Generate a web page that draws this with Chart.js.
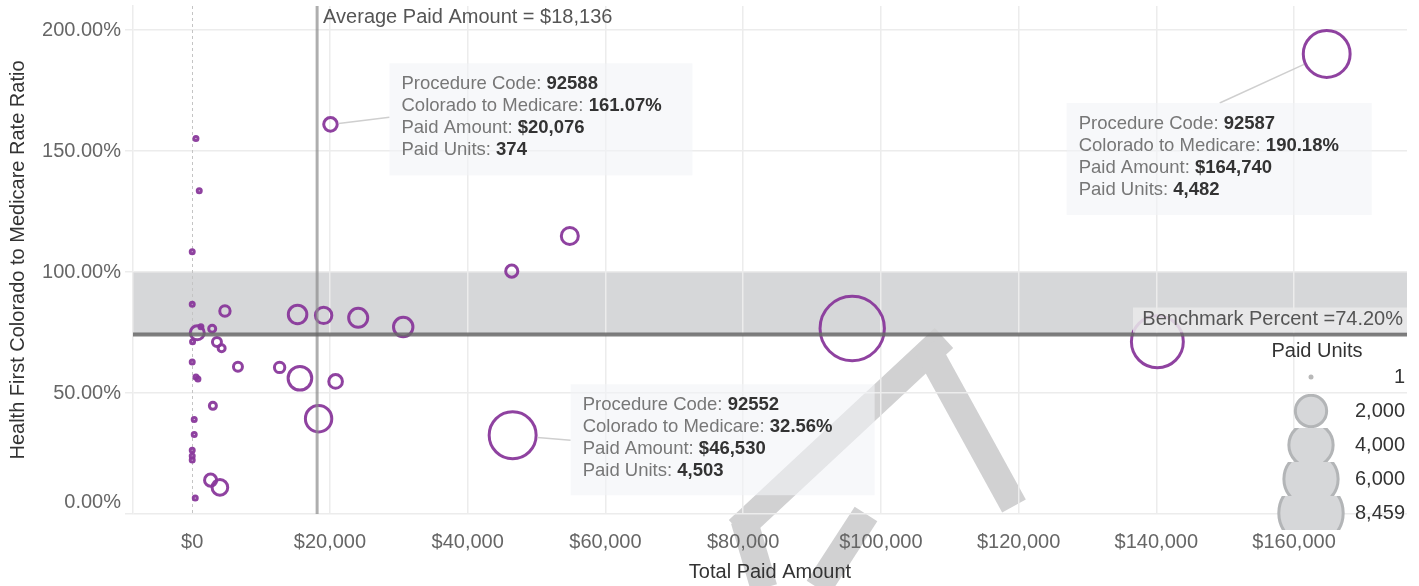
<!DOCTYPE html>
<html>
<head>
<meta charset="utf-8">
<script src="https://cdn.jsdelivr.net/npm/chart.js@4.4.0/dist/chart.umd.min.js"></script>
<style>
  html, body { margin: 0; padding: 0; background: #fff; }
  #wrap { width: 1419px; height: 586px; }
</style>
</head>
<body>
<div id="wrap"><canvas id="chart" width="1419" height="586"></canvas></div>
<script>
// Values (first three are the annotated codes)
const procedureCodes = ['92588', '92587', '92552'];
const paidAmount = [20076, 164740, 46530,
  540, 1020, 0, 0, 4750, 1260, 730, 2900, 50, 3590, 4270, 0, 6640, 540, 830, 3000,
  290, 290, 0, 0, 0, 2670, 4020, 440, 15300, 19080, 24100, 30640, 12690, 15640,
  20820, 18350, 54830, 46400, 95840, 140150];
const rateRatio = [161.07, 190.18, 32.56,
  155.2, 133.6, 108.4, 86.7, 83.9, 77.4, 74.9, 76.6, 71.2, 71.1, 68.5, 62.8, 60.9, 56.6, 55.8, 44.7,
  39.1, 32.9, 26.4, 24.0, 22.3, 14.0, 11.0, 6.6, 82.5, 82.1, 81.1, 77.3, 60.6, 56.1,
  54.8, 39.4, 114.9, 100.4, 76.7, 71.2];
const paidUnits = [374, 4482, 4503,
  8, 10, 3, 4, 220, 15, 400, 100, 5, 165, 100, 3, 165, 8, 10, 100,
  6, 6, 3, 3, 3, 300, 500, 7, 700, 550, 740, 770, 220, 1140,
  380, 1420, 590, 300, 8459, 5500];

const xTicks = [0, 20000, 40000, 60000, 80000, 100000, 120000, 140000, 160000];
const yTicks = [0, 50, 100, 150, 200];
const legendUnits = [1, 2000, 4000, 6000, 8459];
const averagePaid = 18136;
const benchmarkPct = 74.2;

const FONT = '"Liberation Sans", Arial, Helvetica, sans-serif';
const PURPLE = 'rgba(137, 56, 155, 0.95)';

const radiusFor = u => Math.max(2, 0.35 * Math.sqrt(u));
const money = v => (v < 0 ? '-$' : '$') + Math.abs(v).toString().replace(/\B(?=(\d{3})+(?!\d))/g, ',');
const num = v => v.toString().replace(/\B(?=(\d{3})+(?!\d))/g, ',');

// callout boxes, placed relative to their point
const callouts = [
  { idx: 0, dx: 59, dy: -61, w: 303, h: 112, ax: 0, ay: 54 },
  { idx: 1, dx: -260, dy: 49, w: 305, h: 112, ax: 153, ay: 0 },
  { idx: 2, dx: 58, dy: -51, w: 304, h: 111, ax: 0, ay: 56 }
];

// grey watermark strokes over the lower middle of the picture
const watermark = [
  [[738, 530], [944, 338]],
  [[926, 346], [1014, 506]],
  [[866, 514], [818, 588]],
  [[744, 520], [764, 588]]
];

const overlays = {
  id: 'overlays',
  beforeDraw(chart) {
    const { ctx, chartArea: a, scales: { y } } = chart;
    const y1 = y.getPixelForValue(100), y2 = y.getPixelForValue(benchmarkPct);
    ctx.save();
    ctx.fillStyle = '#d6d7d9';
    ctx.fillRect(a.left, y1, a.right - a.left, y2 - y1);

    // watermark sits under the text layers
    ctx.strokeStyle = 'rgb(209, 209, 210)';
    ctx.lineWidth = 27;
    ctx.lineCap = 'butt';
    watermark.forEach(([p1, p2]) => {
      ctx.beginPath();
      ctx.moveTo(p1[0], p1[1]);
      ctx.lineTo(p2[0], p2[1]);
      ctx.stroke();
    });
    ctx.restore();
  },
  beforeDatasetsDraw(chart) {
    const { ctx, chartArea: a, scales: { x } } = chart;
    const x0 = Math.round(x.getPixelForValue(0)) + 0.5;
    ctx.save();
    ctx.strokeStyle = '#c4c4c4';
    ctx.lineWidth = 1;
    ctx.setLineDash([3, 3]);
    ctx.beginPath();
    ctx.moveTo(x0, a.top);
    ctx.lineTo(x0, a.bottom);
    ctx.stroke();
    ctx.restore();
  },
  afterDatasetsDraw(chart) {
    const { ctx, chartArea: a, scales: { x, y } } = chart;
    ctx.save();
    // average paid amount
    const xa = x.getPixelForValue(averagePaid);
    ctx.strokeStyle = 'rgba(140, 140, 140, 0.7)';
    ctx.lineWidth = 3;
    ctx.beginPath();
    ctx.moveTo(xa, a.top);
    ctx.lineTo(xa, a.bottom);
    ctx.stroke();
    ctx.font = '20px ' + FONT;
    ctx.fillStyle = '#555';
    ctx.textBaseline = 'middle';
    ctx.textAlign = 'left';
    ctx.fillText('Average Paid Amount = ' + money(averagePaid), xa + 6, a.top + 11);

    // benchmark
    const yb = y.getPixelForValue(benchmarkPct);
    ctx.strokeStyle = 'rgba(105, 105, 105, 0.85)';
    ctx.lineWidth = 4;
    ctx.beginPath();
    ctx.moveTo(a.left, yb);
    ctx.lineTo(a.right, yb);
    ctx.stroke();
    ctx.fillStyle = 'rgba(234, 234, 234, 0.85)';
    ctx.fillRect(a.right - 274, yb - 27, 274, 25);
    ctx.fillStyle = '#555';
    ctx.textAlign = 'right';
    ctx.fillText('Benchmark Percent =' + benchmarkPct.toFixed(2) + '%', a.right - 4, yb - 15);
    ctx.restore();
  },
  afterDraw(chart) {
    const { ctx } = chart;
    const pts = chart.getDatasetMeta(0).data;
    ctx.save();

    // callouts
    callouts.forEach((c, k) => {
      const p = pts[c.idx];
      const bx = p.x + c.dx, by = p.y + c.dy;
      const axp = bx + c.ax, ayp = by + c.ay;
      const r = radiusFor(paidUnits[c.idx]) + 1.5;
      const ang = Math.atan2(ayp - p.y, axp - p.x);
      ctx.strokeStyle = '#cfcfcf';
      ctx.lineWidth = 1.5;
      ctx.beginPath();
      ctx.moveTo(p.x + r * Math.cos(ang), p.y + r * Math.sin(ang));
      ctx.lineTo(axp, ayp);
      ctx.stroke();
      ctx.fillStyle = 'rgba(241, 243, 247, 0.6)';
      ctx.fillRect(bx, by, c.w, c.h);
      const rows = [
        ['Procedure Code: ', procedureCodes[k]],
        ['Colorado to Medicare: ', rateRatio[c.idx].toFixed(2) + '%'],
        ['Paid Amount: ', money(paidAmount[c.idx])],
        ['Paid Units: ', num(paidUnits[c.idx])]
      ];
      ctx.textBaseline = 'middle';
      ctx.textAlign = 'left';
      rows.forEach((row, i) => {
        const ty = by + 21 + i * 22;
        ctx.font = '18.5px ' + FONT;
        ctx.fillStyle = '#777';
        ctx.fillText(row[0], bx + 12, ty);
        const w = ctx.measureText(row[0]).width;
        ctx.font = 'bold 18.5px ' + FONT;
        ctx.fillStyle = '#333';
        ctx.fillText(row[1], bx + 12 + w, ty);
      });
    });

    // size legend
    const lx = 1311, rowH = 34, firstY = 377;
    ctx.font = '20px ' + FONT;
    ctx.fillStyle = '#333';
    ctx.textAlign = 'center';
    ctx.textBaseline = 'middle';
    ctx.fillText('Paid Units', 1317, 351);
    legendUnits.forEach((u, i) => {
      const cy = firstY + i * rowH;
      ctx.save();
      ctx.beginPath();
      ctx.rect(lx - 60, cy - rowH / 2, 120, rowH);
      ctx.clip();
      const r = radiusFor(u);
      ctx.beginPath();
      if (u <= 1) {
        ctx.arc(lx, cy, 2.5, 0, Math.PI * 2);
        ctx.fillStyle = '#b8b8b8';
        ctx.fill();
      } else {
        ctx.arc(lx, cy, r, 0, Math.PI * 2);
        ctx.fillStyle = '#d6d7d9';
        ctx.fill();
        ctx.strokeStyle = '#b3b5b7';
        ctx.lineWidth = 3;
        ctx.stroke();
      }
      ctx.restore();
      ctx.font = '20px ' + FONT;
      ctx.fillStyle = '#333';
      ctx.textAlign = 'right';
      ctx.fillText(num(u), 1405, cy);
    });
    ctx.restore();
  }
};

new Chart(document.getElementById('chart'), {
  type: 'scatter',
  data: {
    datasets: [{
      data: paidAmount.map((v, i) => ({ x: v, y: rateRatio[i] })),
      pointRadius: paidUnits.map(radiusFor),
      pointBorderWidth: 3,
      borderColor: PURPLE,
      backgroundColor: 'rgba(0,0,0,0)',
      pointBackgroundColor: 'rgba(0,0,0,0)',
      pointBorderColor: PURPLE
    }]
  },
  options: {
    responsive: false,
    animation: false,
    events: [],
    layout: { autoPadding: false, padding: { top: 6, right: 12, left: 0, bottom: 0 } },
    plugins: { legend: { display: false }, tooltip: { enabled: false } },
    scales: {
      x: {
        type: 'linear',
        min: -8600,
        max: 176400,
        afterBuildTicks: s => { s.ticks = xTicks.map(v => ({ value: v })); },
        afterFit: s => { s.height = 72; s.paddingLeft = 0; s.paddingRight = 0; },
        grid: {
          color: c => (c.tick && c.tick.value === 0 ? 'rgba(0,0,0,0)' : '#ececec'),
          lineWidth: 1.5,
          drawTicks: false
        },
        border: { display: false },
        ticks: { color: '#666', padding: 16, maxRotation: 0, font: { size: 20, family: FONT }, callback: v => money(v) },
        title: { display: true, text: 'Total Paid Amount', color: '#333', font: { size: 20, family: FONT }, padding: { top: 4, bottom: 2 } }
      },
      y: {
        min: 0,
        max: 210,
        afterBuildTicks: s => { s.ticks = yTicks.map(v => ({ value: v })); },
        afterFit: s => { s.width = 133; s.paddingTop = 0; s.paddingBottom = 0; },
        grid: { color: '#ececec', lineWidth: 1.5, tickLength: 8, tickColor: '#ececec' },
        border: { display: true, color: '#ececec', width: 1.5 },
        ticks: { color: '#666', padding: 4, font: { size: 20, family: FONT }, callback: v => (v === 0 ? ['0.00%', ''] : v.toFixed(2) + '%') },
        title: { display: true, text: 'Health First Colorado to Medicare Rate Ratio', color: '#333', font: { size: 20, family: FONT }, padding: { top: 6, bottom: 0 } }
      }
    }
  },
  plugins: [overlays]
});
</script>
</body>
</html>
